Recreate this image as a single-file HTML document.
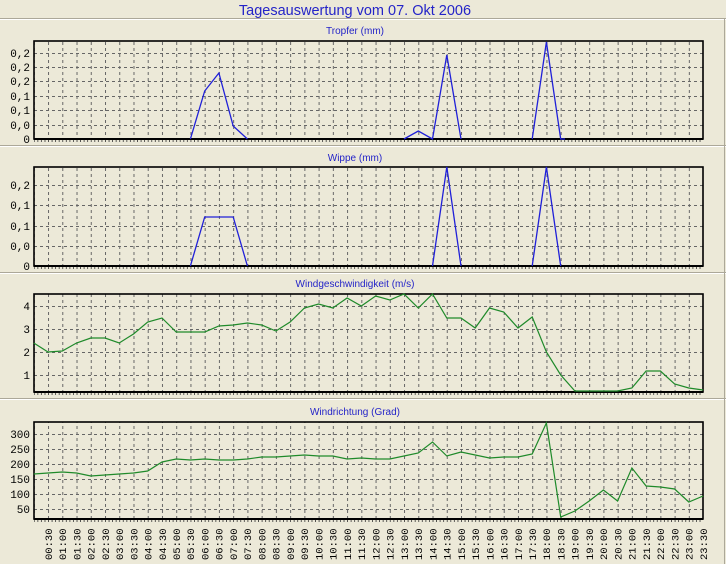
<!DOCTYPE html>
<html><head><meta charset="utf-8"><style>
html,body{margin:0;padding:0;background:#ECE9D8;}
svg{display:block;}
.t{font-family:"Liberation Sans",sans-serif;fill:#2424c8;}
.y{font-family:"Liberation Mono",monospace;font-size:11px;fill:#000;text-anchor:end;}
.x{font-family:"Liberation Mono",monospace;font-size:10.5px;fill:#000;}
</style></head><body>
<svg width="726" height="564" viewBox="0 0 726 564" xmlns="http://www.w3.org/2000/svg">
<defs>
<pattern id="vg" patternUnits="userSpaceOnUse" x="33.8" y="0" width="14.24" height="6">
<line x1="0.5" y1="0" x2="0.5" y2="3" stroke="#666" stroke-width="1"/>
</pattern>
<pattern id="mt" patternUnits="userSpaceOnUse" x="33.8" y="0" width="3.56" height="10">
<line x1="0.5" y1="0" x2="0.5" y2="10" stroke="#333" stroke-width="0.8"/>
</pattern>
</defs>
<rect width="726" height="564" fill="#ECE9D8"/>
<text class="t" x="355" y="15" font-size="14.5" text-anchor="middle">Tagesauswertung vom 07. Okt 2006</text>
<g stroke-width="1">
<line x1="0" y1="18.5" x2="726" y2="18.5" stroke="#aca899"/><line x1="0" y1="19.5" x2="726" y2="19.5" stroke="#fff"/>
<line x1="0" y1="145.5" x2="726" y2="145.5" stroke="#aca899"/><line x1="0" y1="146.5" x2="726" y2="146.5" stroke="#fff"/>
<line x1="0" y1="272.5" x2="726" y2="272.5" stroke="#aca899"/><line x1="0" y1="273.5" x2="726" y2="273.5" stroke="#fff"/>
<line x1="0" y1="398.5" x2="726" y2="398.5" stroke="#aca899"/><line x1="0" y1="399.5" x2="726" y2="399.5" stroke="#fff"/>
<line x1="724.5" y1="19" x2="724.5" y2="564" stroke="#aca899"/>
</g>
<text class="t" x="355" y="34" font-size="10" text-anchor="middle">Tropfer (mm)</text>
<text class="t" x="355" y="161" font-size="10" text-anchor="middle">Wippe (mm)</text>
<text class="t" x="355" y="287" font-size="10" text-anchor="middle">Windgeschwindigkeit (m/s)</text>
<text class="t" x="355" y="415" font-size="10" text-anchor="middle">Windrichtung (Grad)</text>

<rect x="34" y="41" width="669" height="98" fill="url(#vg)"/>
<rect x="34" y="167" width="669" height="99" fill="url(#vg)"/>
<rect x="34" y="294" width="669" height="98" fill="url(#vg)"/>
<rect x="34" y="422" width="669" height="97" fill="url(#vg)"/>
<rect x="34" y="139" width="669" height="3" fill="url(#mt)"/>
<rect x="34" y="266" width="669" height="3" fill="url(#mt)"/>
<rect x="34" y="392" width="669" height="3" fill="url(#mt)"/>
<rect x="34" y="519" width="669" height="3" fill="url(#mt)"/>
<g stroke="#666" stroke-width="1" stroke-dasharray="3,3">
<path d="M34 53.5H703M34 67.5H703M34 81.5H703M34 96.5H703M34 110.5H703M34 125.5H703"/>
<path d="M34 185.5H703M34 205.5H703M34 226.5H703M34 246.5H703"/>
<path d="M34 306.5H703M34 329.5H703M34 352.5H703M34 375.5H703"/>
<path d="M34 434.5H703M34 449.5H703M34 464.5H703M34 479.5H703M34 494.5H703M34 509.5H703"/>
</g>
<g fill="none" stroke="#000" stroke-width="1.6">
<rect x="34" y="41" width="669" height="98"/>
<rect x="34" y="167" width="669" height="99"/>
<rect x="34" y="294" width="669" height="98"/>
<rect x="34" y="422" width="669" height="97"/>
</g>
<g stroke="#000" stroke-width="2"><path d="M34 139H703M34 266H703M34 392H703M34 519H703"/></g>
<text class="y" x="30" y="57">0,2</text><text class="y" x="30" y="71">0,2</text><text class="y" x="30" y="85">0,2</text><text class="y" x="30" y="100">0,1</text><text class="y" x="30" y="114">0,1</text><text class="y" x="30" y="129">0,0</text><text class="y" x="30" y="143">0</text>
<text class="y" x="30" y="189">0,2</text><text class="y" x="30" y="209">0,1</text><text class="y" x="30" y="230">0,1</text><text class="y" x="30" y="250">0,0</text><text class="y" x="30" y="270">0</text>
<text class="y" x="30" y="310">4</text><text class="y" x="30" y="333">3</text><text class="y" x="30" y="356">2</text><text class="y" x="30" y="379">1</text>
<text class="y" x="30" y="438">300</text><text class="y" x="30" y="453">250</text><text class="y" x="30" y="468">200</text><text class="y" x="30" y="483">150</text><text class="y" x="30" y="498">100</text><text class="y" x="30" y="513">50</text>
<g fill="none" stroke="#2020d8" stroke-width="1.3">
<polyline points="190.4,139 204.7,91 218.9,73 233.2,126 247.4,139"/>
<polyline points="404,139 418.3,131 432.5,139 446.8,55 461,139"/>
<polyline points="532.2,139 546.4,42 560.7,139 565,139"/>
<polyline points="190.4,266 204.7,217 233.2,217 247.4,266"/>
<polyline points="432.5,266 446.8,167 461,266"/>
<polyline points="532.2,266 546.4,167 560.7,266"/>
</g>
<g fill="none" stroke="#1f8a2a" stroke-width="1.2">
<polyline points="33.8,343 48,352 62.3,351 76.5,343 90.8,338 105,338 119.2,343 133.5,334 147.7,322 162,318 176.2,332 190.4,332 204.7,332 218.9,326 233.2,325 247.4,323 261.6,325 275.9,331 290.1,322 304.4,308 318.6,304 332.8,308 347.1,298 361.3,306 375.6,296 389.8,300 404,294 418.3,308 432.5,294 446.8,318 461,318 475.2,328 489.5,308 503.7,312 518,328 532.2,317 546.4,352 560.7,375 574.9,391 589.2,391 603.4,391 617.6,391 631.9,388 646.1,371 660.4,371 674.6,384 688.8,388 703.1,390"/>
<polyline points="33.8,474 48,473 62.3,472 76.5,473 90.8,476 105,475 119.2,474 133.5,473 147.7,471 162,462 176.2,459 190.4,460 204.7,459 218.9,460 233.2,460 247.4,459 261.6,457 275.9,457 290.1,456 304.4,455 318.6,456 332.8,456 347.1,459 361.3,458 375.6,459 389.8,459 404,456 418.3,453 432.5,442 446.8,456 461,452 475.2,455 489.5,458 503.7,457 518,457 532.2,454 546.4,423 560.7,517 574.9,511 589.2,501 603.4,490 617.6,501 631.9,468 646.1,486 660.4,487 674.6,489 688.8,502 703.1,496"/>
</g>
<g class="x">
<text transform="translate(51.8,560) rotate(-90)">00:30</text>
<text transform="translate(66.1,560) rotate(-90)">01:00</text>
<text transform="translate(80.3,560) rotate(-90)">01:30</text>
<text transform="translate(94.6,560) rotate(-90)">02:00</text>
<text transform="translate(108.8,560) rotate(-90)">02:30</text>
<text transform="translate(123,560) rotate(-90)">03:00</text>
<text transform="translate(137.3,560) rotate(-90)">03:30</text>
<text transform="translate(151.5,560) rotate(-90)">04:00</text>
<text transform="translate(165.8,560) rotate(-90)">04:30</text>
<text transform="translate(180,560) rotate(-90)">05:00</text>
<text transform="translate(194.2,560) rotate(-90)">05:30</text>
<text transform="translate(208.5,560) rotate(-90)">06:00</text>
<text transform="translate(222.7,560) rotate(-90)">06:30</text>
<text transform="translate(237,560) rotate(-90)">07:00</text>
<text transform="translate(251.2,560) rotate(-90)">07:30</text>
<text transform="translate(265.4,560) rotate(-90)">08:00</text>
<text transform="translate(279.7,560) rotate(-90)">08:30</text>
<text transform="translate(293.9,560) rotate(-90)">09:00</text>
<text transform="translate(308.2,560) rotate(-90)">09:30</text>
<text transform="translate(322.4,560) rotate(-90)">10:00</text>
<text transform="translate(336.6,560) rotate(-90)">10:30</text>
<text transform="translate(350.9,560) rotate(-90)">11:00</text>
<text transform="translate(365.1,560) rotate(-90)">11:30</text>
<text transform="translate(379.4,560) rotate(-90)">12:00</text>
<text transform="translate(393.6,560) rotate(-90)">12:30</text>
<text transform="translate(407.8,560) rotate(-90)">13:00</text>
<text transform="translate(422.1,560) rotate(-90)">13:30</text>
<text transform="translate(436.3,560) rotate(-90)">14:00</text>
<text transform="translate(450.6,560) rotate(-90)">14:30</text>
<text transform="translate(464.8,560) rotate(-90)">15:00</text>
<text transform="translate(479,560) rotate(-90)">15:30</text>
<text transform="translate(493.3,560) rotate(-90)">16:00</text>
<text transform="translate(507.5,560) rotate(-90)">16:30</text>
<text transform="translate(521.8,560) rotate(-90)">17:00</text>
<text transform="translate(536,560) rotate(-90)">17:30</text>
<text transform="translate(550.2,560) rotate(-90)">18:00</text>
<text transform="translate(564.5,560) rotate(-90)">18:30</text>
<text transform="translate(578.7,560) rotate(-90)">19:00</text>
<text transform="translate(593,560) rotate(-90)">19:30</text>
<text transform="translate(607.2,560) rotate(-90)">20:00</text>
<text transform="translate(621.4,560) rotate(-90)">20:30</text>
<text transform="translate(635.7,560) rotate(-90)">21:00</text>
<text transform="translate(649.9,560) rotate(-90)">21:30</text>
<text transform="translate(664.2,560) rotate(-90)">22:00</text>
<text transform="translate(678.4,560) rotate(-90)">22:30</text>
<text transform="translate(692.6,560) rotate(-90)">23:00</text>
<text transform="translate(706.9,560) rotate(-90)">23:30</text>
</g>
</svg>
</body></html>
